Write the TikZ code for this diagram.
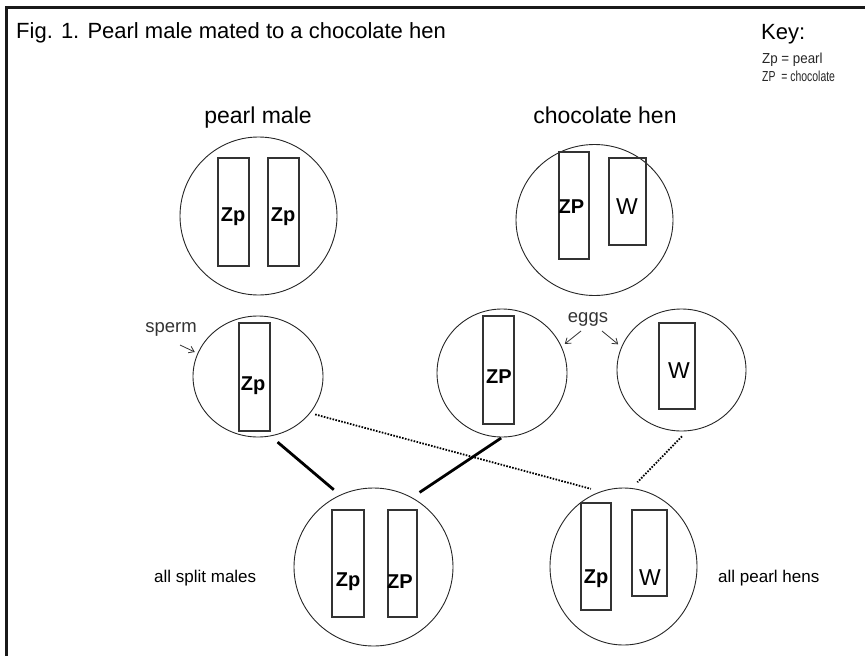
\documentclass[tikz,border=0pt]{standalone}
\usepackage{fontspec}
\setmainfont{Liberation Sans}
\usetikzlibrary{shapes.geometric,arrows.meta}
\tikzset{
  cell/.style={draw=black!85, line width=0.9pt, ellipse, inner sep=0pt},
  chrom/.style={draw=black!80, line width=1.1pt, rectangle, inner sep=0pt},
  gene/.style={font=\fontsize{20}{20}\selectfont\bfseries, inner sep=0pt},
  wgene/.style={font=\fontsize{23}{23}\selectfont, inner sep=0pt},
  heading/.style={font=\fontsize{23}{23}\selectfont, inner sep=0pt},
  note/.style={font=\fontsize{18.5}{18.5}\selectfont, text=black!80, inner sep=0pt},
  caption/.style={font=\fontsize{17}{17}\selectfont, inner sep=0pt},
  keyentry/.style={anchor=base west, font=\fontsize{14.5}{14.5}\selectfont, text=black!85, inner sep=0pt},
  thickline/.style={line width=2.8pt, black},
  dotline/.style={line width=1.8pt, black, dash pattern=on 1.6pt off 1.4pt},
  pointer/.style={line width=0.8pt, black!80, -{Straight Barb[length=5pt,width=7pt]}},
  frameline/.style={line width=3pt, black!90}
}
\begin{document}
\begin{tikzpicture}[x=1pt,y=-1pt]
\useasboundingbox (0,0) rectangle (865,656);
% frame (top and left only)
\coordinate (fa) at (865,7.5);
\coordinate (fb) at (6.5,7.5);
\coordinate (fc) at (6.5,656);
\draw[frameline] (fa) -- (fb) -- (fc);

% title and key
\node[anchor=base west, font=\fontsize{22}{22}\selectfont, inner sep=0pt] (title) at (16,38) {Fig. 1. Pearl male mated to a chocolate hen};
\node[anchor=base west, font=\fontsize{22}{22}\selectfont, inner sep=0pt] (key) at (761,39) {Key:};
\node[keyentry] (key1) at (762,63) {\scalebox{0.92}[1]{Zp = pearl}};
\node[keyentry] (key2) at (762,81) {\scalebox{0.72}[1]{ZP \ = chocolate}};

% headings
\node[heading, anchor=base] (hmale) at (258,123) {pearl male};
\node[heading, anchor=base] (hhen) at (605,123) {chocolate hen};

% parent cells
\node[cell, minimum width=157pt, minimum height=158pt] (male) at (258.5,216) {};
\node[cell, minimum width=157pt, minimum height=151pt] (hen) at (594.5,220) {};
\node[chrom, minimum width=31pt, minimum height=108pt] (m1) at (233.5,212) {};
\node[chrom, minimum width=31pt, minimum height=108pt] (m2) at (283.5,212) {};
\node[chrom, minimum width=30pt, minimum height=107pt] (h1) at (574,205.5) {};
\node[chrom, minimum width=37pt, minimum height=87pt] (h2) at (627.5,201.5) {};
\node[gene] (m1t) at (233,217) {Zp};
\node[gene] (m2t) at (283,217) {Zp};
\node[gene] (h1t) at (571.5,207) {ZP};
\node[wgene] (h2t) at (627,207) {W};

% gametes
\node[cell, minimum width=130pt, minimum height=121pt] (sperm) at (258,376.5) {};
\node[cell, minimum width=130pt, minimum height=128pt] (eggz) at (502,373) {};
\node[cell, minimum width=129pt, minimum height=122pt] (eggw) at (681.5,370) {};
\node[chrom, minimum width=31pt, minimum height=108pt] (s1) at (254.5,377) {};
\node[chrom, minimum width=31pt, minimum height=108pt] (e1) at (498.5,370) {};
\node[chrom, minimum width=36pt, minimum height=86pt] (e2) at (677,366) {};
\node[gene] (s1t) at (253,386) {Zp};
\node[gene] (e1t) at (499,377) {ZP};
\node[wgene] (e2t) at (679,371) {W};

% gamete notes
\node[note, anchor=base] (spermlbl) at (171,332) {sperm};
\node[note, anchor=base] (eggslbl) at (588,322) {eggs};
\coordinate (sp0) at (180,345);
\coordinate (eg0) at (581,331);
\coordinate (eg1) at (602,331);
\draw[pointer, shorten >=3pt] (sp0) -- (sperm.159);
\draw[pointer, shorten >=4pt] (eg0) -- (eggz.24);
\draw[pointer, shorten >=4pt] (eg1) -- (eggw.159);

% offspring
\node[cell, minimum width=159pt, minimum height=158pt] (split) at (373.5,567) {};
\node[cell, minimum width=147pt, minimum height=157pt] (hens) at (623.5,566.5) {};
\node[chrom, minimum width=32pt, minimum height=107pt] (c1) at (348,563.5) {};
\node[chrom, minimum width=29pt, minimum height=107pt] (c2) at (402.5,563.5) {};
\node[chrom, minimum width=30pt, minimum height=107pt] (d1) at (596,556.5) {};
\node[chrom, minimum width=35pt, minimum height=86pt] (d2) at (649.5,553) {};
\node[gene] (c1t) at (348,582) {Zp};
\node[gene] (c2t) at (400,582) {ZP};
\node[gene] (d1t) at (596,579) {Zp};
\node[wgene] (d2t) at (650,578) {W};
\node[caption, anchor=west] (splitlbl) at (154,578) {all split males};
\node[caption, anchor=west] (henslbl) at (718,578) {all pearl hens};

% crosses
\draw[thickline, shorten <=9pt, shorten >=8pt] (sperm.-78) -- (split.115);
\draw[thickline, shorten <=1pt, shorten >=9pt] (eggz.-90) -- (split.61);
\draw[dotline, shorten <=5pt, shorten >=10pt] (sperm.-35) -- (hens.107);
\draw[dotline, shorten <=7pt, shorten >=8pt] (eggw.-85) -- (hens.84);
\end{tikzpicture}
\end{document}
